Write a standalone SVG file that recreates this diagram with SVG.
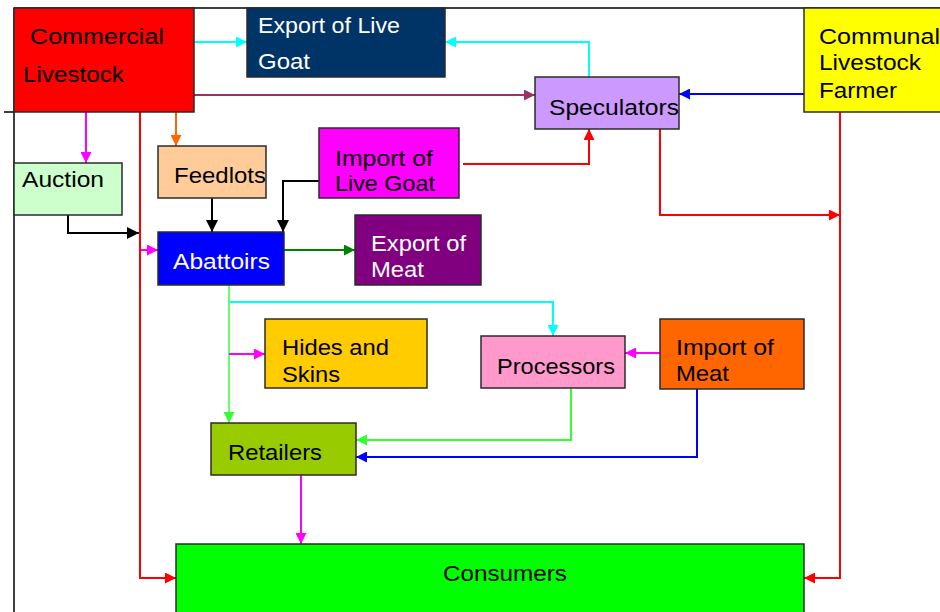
<svg xmlns="http://www.w3.org/2000/svg" width="940" height="612" viewBox="0 0 940 612">
<defs>
<style>
.box{stroke:#2b2b2b;stroke-width:1.5}
text{font-family:"Liberation Sans",Arial,sans-serif;font-size:22px;fill:#000}
.w{fill:#fff}
.c{fill:none;stroke-width:2}
</style>
<marker id="aCy" viewBox="0 0 10 10" refX="10" refY="5" markerWidth="11" markerHeight="11" markerUnits="userSpaceOnUse" orient="auto"><path d="M0,0 L10,5 L0,10 z" fill="#00FFFF"/></marker>
<marker id="aPu" viewBox="0 0 10 10" refX="10" refY="5" markerWidth="11" markerHeight="11" markerUnits="userSpaceOnUse" orient="auto"><path d="M0,0 L10,5 L0,10 z" fill="#993366"/></marker>
<marker id="aBl" viewBox="0 0 10 10" refX="10" refY="5" markerWidth="11" markerHeight="11" markerUnits="userSpaceOnUse" orient="auto"><path d="M0,0 L10,5 L0,10 z" fill="#0000FF"/></marker>
<marker id="aRd" viewBox="0 0 10 10" refX="10" refY="5" markerWidth="11" markerHeight="11" markerUnits="userSpaceOnUse" orient="auto"><path d="M0,0 L10,5 L0,10 z" fill="#FF0000"/></marker>
<marker id="aMg" viewBox="0 0 10 10" refX="10" refY="5" markerWidth="11" markerHeight="11" markerUnits="userSpaceOnUse" orient="auto"><path d="M0,0 L10,5 L0,10 z" fill="#FF00FF"/></marker>
<marker id="aOr" viewBox="0 0 10 10" refX="10" refY="5" markerWidth="11" markerHeight="11" markerUnits="userSpaceOnUse" orient="auto"><path d="M0,0 L10,5 L0,10 z" fill="#FF6600"/></marker>
<marker id="aBk" viewBox="0 0 10 10" refX="10" refY="5" markerWidth="12" markerHeight="12" markerUnits="userSpaceOnUse" orient="auto"><path d="M0,0 L10,5 L0,10 z" fill="#000000"/></marker>
<marker id="aDg" viewBox="0 0 10 10" refX="10" refY="5" markerWidth="11" markerHeight="11" markerUnits="userSpaceOnUse" orient="auto"><path d="M0,0 L10,5 L0,10 z" fill="#008000"/></marker>
<marker id="aLg" viewBox="0 0 10 10" refX="10" refY="5" markerWidth="11" markerHeight="11" markerUnits="userSpaceOnUse" orient="auto"><path d="M0,0 L10,5 L0,10 z" fill="#33FF33"/></marker>
</defs>
<rect x="0" y="0" width="940" height="612" fill="#fff"/>
<g id="frame" fill="none" stroke="#000" stroke-width="1.5">
<path d="M14,8 H940"/>
<path d="M14,8 V612"/>
<path d="M4,112 H14"/>
</g>
<g id="connectors">
<path class="c" stroke="#00FFFF" d="M194,42 H247" marker-end="url(#aCy)"/>
<path class="c" stroke="#993366" d="M194,95 H535" marker-end="url(#aPu)"/>
<path class="c" stroke="#00FFFF" d="M589,77 V42 H445" marker-end="url(#aCy)"/>
<path class="c" stroke="#0000FF" d="M804,94 H679" marker-end="url(#aBl)"/>
<path class="c" stroke="#FF0000" stroke-width="3" d="M463,164 H589 V129" marker-end="url(#aRd)"/>
<path class="c" stroke="#FF0000" d="M660,129 V215 H840" marker-end="url(#aRd)"/>
<path class="c" stroke="#FF0000" d="M840,112 V578 H804" marker-end="url(#aRd)"/>
<path class="c" stroke="#FF0000" d="M140,112 V578 H176" marker-end="url(#aRd)"/>
<path class="c" stroke="#FF00FF" d="M86,112 V163" marker-end="url(#aMg)"/>
<path class="c" stroke="#FF6600" d="M176,112 V146" marker-end="url(#aOr)"/>
<path class="c" stroke="#000" stroke-width="1.5" d="M68,215 V233 H139" marker-end="url(#aBk)"/>
<path class="c" stroke="#FF00FF" d="M141,250 H158" marker-end="url(#aMg)"/>
<path class="c" stroke="#000" stroke-width="1.5" d="M212,198 V232" marker-end="url(#aBk)"/>
<path class="c" stroke="#000" stroke-width="1.5" d="M319,181 H283 V232" marker-end="url(#aBk)"/>
<path class="c" stroke="#008000" d="M284,250 H355" marker-end="url(#aDg)"/>
<path class="c" stroke="#66FF66" d="M229,285 V423" marker-end="url(#aLg)"/>
<path class="c" stroke="#00FFFF" d="M229,302 H553 V336" marker-end="url(#aCy)"/>
<path class="c" stroke="#FF00FF" d="M229,354 H265" marker-end="url(#aMg)"/>
<path class="c" stroke="#FF00FF" d="M660,353 H625" marker-end="url(#aMg)"/>
<path class="c" stroke="#33FF33" d="M571,388 V440 H356" marker-end="url(#aLg)"/>
<path class="c" stroke="#0000FF" d="M697,389 V457 H356" marker-end="url(#aBl)"/>
<path class="c" stroke="#FF00FF" d="M301,475 V544" marker-end="url(#aMg)"/>
</g>
<g id="commercial"><rect class="box" x="14" y="8" width="180" height="104" fill="#FF0000"/>
<text x="30" y="44" textLength="134" lengthAdjust="spacingAndGlyphs">Commercial</text>
<text x="23" y="82" textLength="101" lengthAdjust="spacingAndGlyphs">Livestock</text></g>
<g id="export-live-goat"><rect class="box" x="247" y="8" width="198" height="69" fill="#003366"/>
<text class="w" x="258" y="33" textLength="142" lengthAdjust="spacingAndGlyphs">Export of Live</text>
<text class="w" x="258" y="69" textLength="52" lengthAdjust="spacingAndGlyphs">Goat</text></g>
<g id="speculators"><rect class="box" x="535" y="77" width="144" height="52" fill="#CC99FF"/>
<text x="549" y="115" textLength="130" lengthAdjust="spacingAndGlyphs">Speculators</text></g>
<g id="communal"><rect class="box" x="804" y="8" width="140" height="104" fill="#FFFF00"/>
<text x="819" y="44" textLength="121" lengthAdjust="spacingAndGlyphs">Communal</text>
<text x="819" y="70" textLength="102" lengthAdjust="spacingAndGlyphs">Livestock</text>
<text x="819" y="98" textLength="78" lengthAdjust="spacingAndGlyphs">Farmer</text></g>
<g id="auction"><rect class="box" x="14" y="163" width="108" height="52" fill="#CCFFCC"/>
<text x="22" y="187" textLength="82" lengthAdjust="spacingAndGlyphs">Auction</text></g>
<g id="feedlots"><rect class="box" x="158" y="146" width="108" height="52" fill="#FFCC99"/>
<text x="174" y="183" textLength="92" lengthAdjust="spacingAndGlyphs">Feedlots</text></g>
<g id="import-live-goat"><rect class="box" x="319" y="128" width="140" height="70" fill="#FF00FF"/>
<text x="335" y="166" textLength="98" lengthAdjust="spacingAndGlyphs">Import of</text>
<text x="335" y="191" textLength="100" lengthAdjust="spacingAndGlyphs">Live Goat</text></g>
<g id="abattoirs"><rect class="box" x="158" y="232" width="126" height="53" fill="#0000FF"/>
<text class="w" x="173" y="269" textLength="97" lengthAdjust="spacingAndGlyphs">Abattoirs</text></g>
<g id="export-meat"><rect class="box" x="355" y="215" width="126" height="70" fill="#800080"/>
<text class="w" x="371" y="251" textLength="95" lengthAdjust="spacingAndGlyphs">Export of</text>
<text class="w" x="371" y="277" textLength="53" lengthAdjust="spacingAndGlyphs">Meat</text></g>
<g id="hides"><rect class="box" x="265" y="319" width="162" height="69" fill="#FFCC00"/>
<text x="282" y="355" textLength="107" lengthAdjust="spacingAndGlyphs">Hides and</text>
<text x="282" y="382" textLength="58" lengthAdjust="spacingAndGlyphs">Skins</text></g>
<g id="processors"><rect class="box" x="481" y="336" width="144" height="52" fill="#FF99CC"/>
<text x="497" y="374" textLength="118" lengthAdjust="spacingAndGlyphs">Processors</text></g>
<g id="import-meat"><rect class="box" x="660" y="319" width="144" height="70" fill="#FF6600"/>
<text x="676" y="355" textLength="98" lengthAdjust="spacingAndGlyphs">Import of</text>
<text x="676" y="381" textLength="53" lengthAdjust="spacingAndGlyphs">Meat</text></g>
<g id="retailers"><rect class="box" x="211" y="423" width="145" height="52" fill="#99CC00"/>
<text x="228" y="460" textLength="94" lengthAdjust="spacingAndGlyphs">Retailers</text></g>
<g id="consumers"><rect class="box" x="176" y="544" width="628" height="80" fill="#00FF00"/>
<text x="443" y="581" textLength="124" lengthAdjust="spacingAndGlyphs">Consumers</text></g>
</svg>
